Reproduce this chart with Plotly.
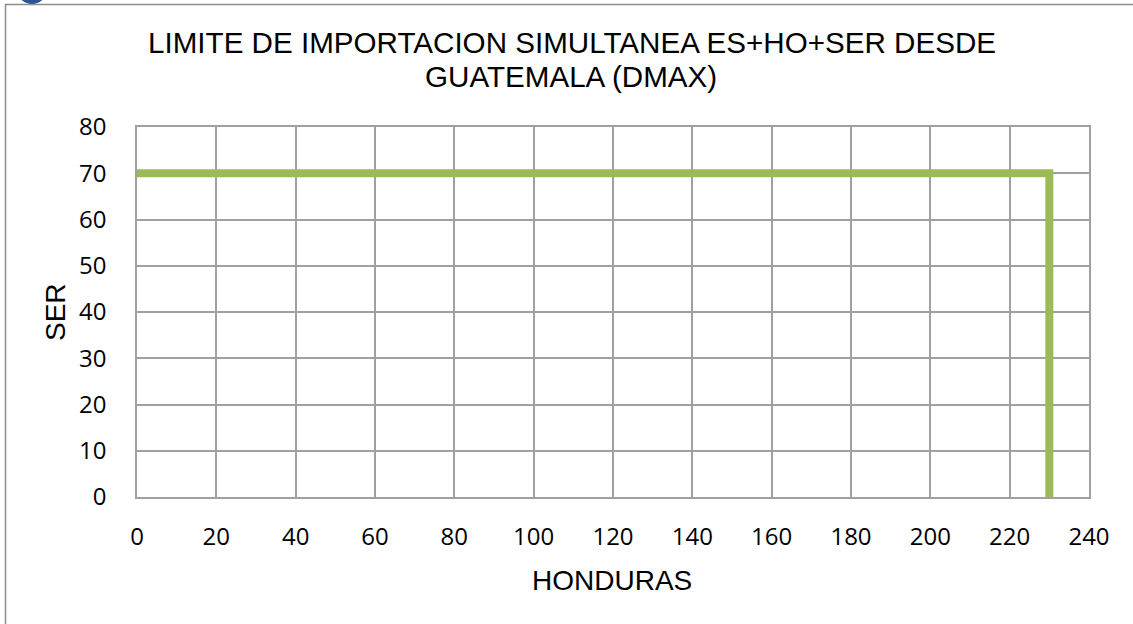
import plotly.graph_objects as go

honduras = [0, 230, 230]
ser = [70, 70, 0]
x_ticks = list(range(0, 241, 20))
y_ticks = list(range(0, 81, 10))
title_lines = ["LIMITE DE IMPORTACION SIMULTANEA ES+HO+SER DESDE", "GUATEMALA (DMAX)"]
x_title = "HONDURAS"
y_title = "SER"

W, H = 1133, 624
L, T = 137, 127
R = W - 1089
B = H - 497
pw, ph = W - L - R, H - T - B

def px(x):  # screen x -> paper
    return (x - L) / pw

def py(y):  # screen y -> paper
    return (H - B - y) / ph

fig = go.Figure()
fig.add_trace(go.Scatter(x=honduras, y=ser, mode="lines",
                         line=dict(color="#9BBB59", width=8),
                         showlegend=False, hoverinfo="skip"))

grid = "#A0A0A0"
tickfont = dict(family="Open Sans", size=24, color="black")
fig.update_layout(
    width=W, height=H,
    margin=dict(l=L, r=R, t=T, b=B),
    paper_bgcolor="white", plot_bgcolor="white",
    font=dict(family="Liberation Sans, Arial", color="black"),
    xaxis=dict(range=[0, 240], tickvals=x_ticks, showgrid=True, gridcolor=grid, gridwidth=1.5,
               showline=True, linecolor=grid, linewidth=1.5, mirror=True, zeroline=False,
               ticks="", tickfont=tickfont, ticklabelstandoff=17),
    yaxis=dict(range=[0, 80], tickvals=y_ticks, showgrid=True, gridcolor=grid, gridwidth=1.5,
               showline=True, linecolor=grid, linewidth=1.5, mirror=True, zeroline=False,
               ticks="", tickfont=tickfont, ticklabelstandoff=24),
    shapes=[
        dict(type="rect", xref="paper", yref="paper",
             x0=px(5.5), x1=px(1150), y0=py(4.5), y1=py(650),
             line=dict(color="#8C8C8C", width=1.5), fillcolor="rgba(0,0,0,0)", layer="below"),
        dict(type="circle", xref="paper", yref="paper",
             x0=px(18), x1=px(46), y0=py(-22), y1=py(4),
             line=dict(color="#2F5597", width=0), fillcolor="#2F5597", layer="above"),
    ],
)

ann_font = dict(family="Liberation Sans, Arial", size=29.6, color="black")
fig.add_annotation(text=title_lines[0], x=px(572), y=py(42.5), xref="paper", yref="paper",
                   showarrow=False, xanchor="center", yanchor="middle", font=ann_font)
fig.add_annotation(text=title_lines[1], x=px(571), y=py(76), xref="paper", yref="paper",
                   showarrow=False, xanchor="center", yanchor="middle", font=ann_font)
fig.add_annotation(text=x_title, x=px(612), y=py(580), xref="paper", yref="paper",
                   showarrow=False, xanchor="center", yanchor="middle",
                   font=dict(family="Liberation Sans, Arial", size=28, color="black"))
fig.add_annotation(text=y_title, x=px(55), y=py(312), xref="paper", yref="paper",
                   showarrow=False, xanchor="center", yanchor="middle", textangle=-90,
                   font=dict(family="Liberation Sans, Arial", size=28, color="black"))

fig.write_html("out.html", config={"displayModeBar": False},
               post_script="document.body.style.margin='0px';")
